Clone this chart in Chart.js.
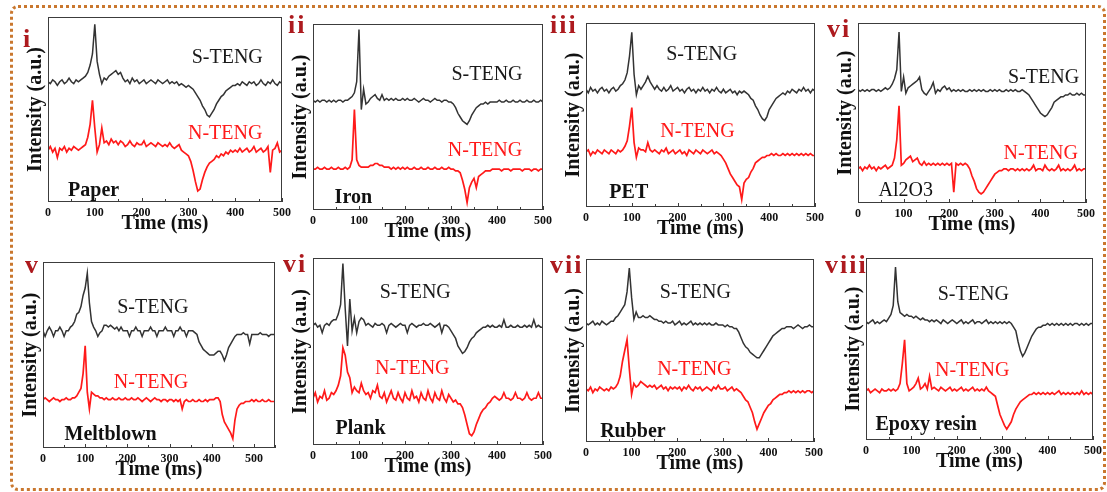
<!DOCTYPE html>
<html>
<head>
<meta charset="utf-8">
<script src="https://cdn.jsdelivr.net/npm/chart.js@4"></script>
<style>
  body { margin: 0; background: #fff; }
  #wrap { position: relative; width: 1107px; height: 492px; overflow: hidden; background: #fff; }
  #frame { position: absolute; left: 10px; top: 5px; width: 1096px; height: 486px; box-sizing: border-box;
           border: 3px dotted #c9772e; border-radius: 8px; }
  canvas { position: absolute; }
</style>
</head>
<body>
<div id="wrap"><div id="frame"></div></div>
<script>
// time grid (ms)
const t500 = [0,5,10,15,20,25,30,35,40,45,50,55,60,65,70,75,80,85,90,95,100,105,110,115,120,125,130,135,140,145,
  150,155,160,165,170,175,180,185,190,195,200,205,210,215,220,225,230,235,240,245,250,255,260,265,270,275,280,285,290,295,
  300,305,310,315,320,325,330,335,340,345,350,355,360,365,370,375,380,385,390,395,400,405,410,415,420,425,430,435,440,445,
  450,455,460,465,470,475,480,485,490,495,500];
const t550 = t500.concat([505,510,515,520,525,530,535,540,545,550]);

const seriesNames = ['S-TENG', 'N-TENG'];
const panelTags = ['i', 'ii', 'iii', 'vi', 'v', 'vi', 'vii', 'viii'];
const materials = ['Paper', 'Iron', 'PET', 'Al2O3', 'Meltblown', 'Plank', 'Rubber', 'Epoxy resin'];

// intensity, % of panel height
const paperS = [65,64,66,65,63,65,66,64,65,67, 65,64,66,65,66,67,68,70,74,80, 96,76,69,64,67,66,68,69,70,71,
  69,70,67,65,66,64,67,65,66,64, 65,66,64,65,66,65,64,66,65,64, 65,66,64,65,64,65,63,64,63,62,
  63,62,61,59,57,55,52,50,47,46, 48,50,53,55,57,58,60,61,62,63, 63,64,63,65,64,63,65,64,65,63,
  64,66,64,63,65,64,66,64,63,65, 64];
const paperN = [28,30,27,29,24,29,28,30,27,29, 28,30,29,28,29,30,31,35,42,55, 40,27,31,40,32,33,31,34,32,33,
  31,33,32,30,31,33,31,30,32,31, 31,33,30,31,32,31,30,32,31,30, 31,30,32,30,29,30,31,28,27,26,
  25,22,17,11,6,7,12,16,19,21, 22,23,25,24,26,25,27,26,28,27, 28,27,29,27,28,29,27,28,30,27,
  28,29,27,28,30,16,28,29,32,27, 28];
const ironS = [59,58,59,58,59,59,58,59,58,59, 58,59,59,58,59,59,60,61,63,69, 97,54,65,57,58,60,61,62,60,59,
  62,59,60,59,60,59,60,59,59,60, 59,60,59,59,60,59,58,59,60,59, 59,58,59,60,59,59,58,59,59,58,
  58,57,55,52,50,48,47,46,48,51, 53,55,56,57,57,58,57,58,58,58, 58,59,58,58,59,58,58,59,58,58,
  59,58,58,59,58,58,59,58,58,59, 58];
const ironN = [22,22,23,22,22,23,22,22,23,22, 22,23,22,22,23,22,23,27,54,27, 24,23,23,23,23,24,24,25,25,24,
  24,23,23,23,22,23,22,23,22,23, 22,23,22,22,23,22,22,23,22,22, 23,22,22,23,22,22,23,22,22,23,
  22,22,21,21,20,16,11,4,12,15, 17,12,18,19,20,21,21,21,22,22, 22,22,21,22,22,22,21,22,22,22,
  22,21,22,22,22,21,22,22,21,22, 22];
const petS = [64,62,65,63,64,62,64,65,63,64, 62,64,65,63,64,66,67,69,73,82, 95,72,61,66,64,66,68,71,68,66,
  64,66,64,63,65,63,64,66,63,64, 65,63,64,62,64,65,63,64,62,64, 63,65,63,64,62,64,63,65,63,62,
  64,62,63,64,62,63,61,63,62,63, 62,61,59,58,55,53,50,48,47,49, 53,55,57,59,60,61,62,61,63,62,
  64,63,62,64,63,65,63,64,62,64, 63];
const petN = [30,31,28,30,29,31,30,29,31,30, 29,31,30,29,31,30,31,33,36,44, 54,35,27,32,31,31,30,35,31,30,
  31,30,29,31,30,32,29,30,31,29, 30,31,29,30,28,31,30,29,31,30, 29,31,30,29,30,31,29,30,29,28,
  26,24,21,18,16,14,12,11,4,13, 15,16,19,21,24,25,26,27,27,28, 28,29,28,29,28,28,29,28,29,28,
  29,28,29,28,29,28,29,28,29,28, 28];
const aloS = [63,62,63,62,63,62,63,63,62,63, 62,63,64,63,64,66,69,74,95,62, 70,61,64,65,66,67,68,70,63,61,
  60,62,64,67,61,63,62,64,65,63, 64,62,63,62,63,62,63,62,62,63, 62,63,62,63,62,63,62,62,63,62,
  63,62,63,62,62,63,62,63,62,63, 62,62,63,62,61,60,58,56,54,52, 50,49,48,49,51,53,56,57,58,59,
  59,60,60,61,60,60,61,60,61,60, 60];
const aloN = [19,20,18,20,19,21,19,20,18,20, 19,20,21,19,20,21,25,35,54,21, 22,24,25,26,23,24,25,22,21,23,
  21,22,21,22,21,22,21,22,21,22, 21,22,6,22,21,22,21,22,21,19, 15,12,8,6,5,6,8,10,12,14,
  16,17,18,18,19,19,18,19,19,18, 19,18,19,18,19,18,19,21,18,19, 19,18,21,19,18,19,18,19,21,18,
  19,18,19,18,19,21,18,19,18,19, 19];
const meltS = [63,60,63,65,63,60,63,63,65,63, 60,63,63,65,66,68,72,73,76,82, 86,94,78,68,65,63,60,62,63,66,
  66,65,66,65,64,65,63,65,63,63, 63,60,63,63,65,63,63,60,63,63, 63,65,63,63,60,63,63,63,65,63,
  63,63,60,63,63,65,63,63,60,63, 63,63,62,61,57,55,53,52,51,50, 50,50,51,52,52,50,47,50,54,56,
  58,60,61,61,61,62,61,61,56,61, 61,61,61,62,61,61,61,60,61,61, 61];
const meltN = [26,27,26,25,26,27,26,26,25,26, 26,27,26,26,27,27,28,30,32,40, 55,30,21,30,29,28,28,27,27,26,
  27,26,26,27,26,26,27,26,26,27, 26,26,27,26,26,27,26,25,26,27, 26,25,26,27,26,26,25,26,26,25,
  26,26,25,26,25,26,21,25,26,25, 25,26,25,25,26,25,25,26,25,26, 26,26,27,27,25,18,14,12,10,8,
  5,15,21,23,24,24,25,25,25,26, 25,26,25,25,26,25,25,26,25,25, 25];
const plankS = [64,65,63,64,60,64,65,64,66,67, 67,70,75,97,73,53,78,61,68,60, 66,68,67,64,65,64,63,65,64,64,
  65,64,60,64,65,64,63,64,65,64, 64,60,64,65,64,63,64,64,65,64, 64,65,64,63,64,65,60,64,64,63,
  61,59,57,53,51,49,50,52,55,57, 58,60,61,62,63,63,64,63,64,63, 63,64,63,67,63,63,64,63,63,64,
  63,63,64,63,64,63,67,63,64,63, 63];
const plankN = [25,28,23,26,25,29,24,25,28,27, 29,32,37,52,48,39,36,28,31,29, 28,33,29,27,28,25,29,28,32,26,
  25,28,23,26,29,25,24,28,25,23, 28,25,24,29,25,26,23,28,25,24, 29,25,23,28,25,24,29,25,23,27,
  25,23,24,22,22,20,16,11,6,5, 7,11,14,17,19,20,22,23,25,26, 25,24,25,28,25,25,24,25,28,25,
  25,24,25,28,25,24,25,25,28,25, 25];
const rubberS = [65,64,65,66,64,65,64,66,65,64, 65,66,66,68,69,71,73,75,82,95, 79,67,71,68,68,69,68,68,69,68,
  67,67,66,66,65,66,65,65,66,64, 65,66,64,65,64,65,66,64,65,64, 65,64,65,64,65,64,64,65,64,64,
  64,63,64,63,63,62,62,60,57,54, 52,51,49,48,47,46,46,48,50,52, 54,56,58,59,60,61,62,62,63,63,
  63,62,63,64,63,62,63,63,64,63, 63];
const rubberN = [29,28,30,27,29,28,30,29,28,29, 28,30,29,30,32,36,44,50,56,40, 26,32,30,31,33,32,31,30,31,30,
  31,29,30,31,29,30,28,30,29,30, 29,30,28,30,29,31,29,28,30,29, 30,28,29,30,29,28,30,29,31,29,
  29,30,28,29,30,28,29,28,27,25, 23,22,19,16,11,7,10,13,16,18, 20,21,23,24,25,26,26,27,27,28,
  27,28,27,28,27,28,27,28,28,27, 28];
const epoxyS = [65,64,65,66,64,65,64,65,66,65, 67,69,74,95,76,70,69,68,69,68, 68,67,68,67,66,67,66,66,65,66,
  65,66,65,64,66,65,64,65,66,65, 64,65,66,64,65,64,65,66,64,65, 65,64,65,66,64,65,64,65,64,65,
  64,65,64,65,64,62,60,54,49,46, 48,51,54,57,59,61,62,62,63,63, 64,63,64,63,64,63,64,63,64,63,
  64,63,64,64,63,64,63,64,63,64, 64];
const epoxyN = [27,28,26,27,28,27,26,28,27,27, 28,27,28,27,28,31,42,55,31,27, 28,29,31,34,28,29,31,28,35,28,
  29,28,27,29,28,27,28,29,27,28, 27,28,29,27,28,27,28,29,27,28, 27,28,27,29,27,26,25,24,19,14,
  11,8,6,8,10,14,17,19,21,22, 23,24,25,25,26,25,26,25,26,25, 26,25,26,25,26,27,25,26,25,26,
  25,26,25,26,25,27,25,26,25,26, 25];

// layout: plot box [left, top, right, bottom] in page px, label anchors in data units
const panels = [
  { box: [48, 17, 282, 202],  xMax: 500, times: t500, s: paperS,  n: paperN,  tag: [-25, 30], sAt: [307, 75],   nAt: [299, 34],   mAt: [43, 3] },
  { box: [313, 24, 543, 210], xMax: 500, times: t500, s: ironS,   n: ironN,   tag: [-25, 9],  sAt: [301, 70],   nAt: [293, 29],   mAt: [47, 4] },
  { box: [586, 23, 815, 207], xMax: 500, times: t500, s: petS,    n: petN,    tag: [-36, 10], sAt: [175, 79.8], nAt: [162, 38],   mAt: [51, 5] },
  { box: [858, 23, 1086, 203],xMax: 500, times: t500, s: aloS,    n: aloN,    tag: [-31, 14], sAt: [329, 66.4], nAt: [319, 24.4], mAt: [45, 3.7] },
  { box: [43, 262, 275, 448], xMax: 550, times: t550, s: meltS,   n: meltN,   tag: [-18, 11], sAt: [176, 72.6], nAt: [168, 32],   mAt: [51, 4.5] },
  { box: [313, 258, 543, 445],xMax: 500, times: t500, s: plankS,  n: plankN,  tag: [-30, 14], sAt: [145, 78.6], nAt: [135, 37.9], mAt: [49, 5.7] },
  { box: [586, 259, 814, 442],xMax: 500, times: t500, s: rubberS, n: rubberN, tag: [-36, 14], sAt: [162, 78.5], nAt: [156, 36.5], mAt: [31, 2.7] },
  { box: [866, 258, 1093, 440],xMax: 500, times: t500, s: epoxyS, n: epoxyN,  tag: [-41, 15], sAt: [158, 77],   nAt: [152, 35.4], mAt: [21, 5.5] }
];

const SERIF = '"Liberation Serif", "Times New Roman", serif';
const ML = 48, MT = 12, MR = 14, MB = 38;

function makeDecor(p, idx) {
  return {
    id: 'decor' + idx,
    afterDraw(chart) {
      const ctx = chart.ctx, a = chart.chartArea;
      const xs = chart.scales.x, ys = chart.scales.y;
      ctx.save();
      // frame
      ctx.strokeStyle = '#3c3c3c';
      ctx.lineWidth = 1;
      ctx.strokeRect(Math.round(a.left) + 0.5, Math.round(a.top) + 0.5,
        Math.round(a.right - a.left) - 1, Math.round(a.bottom - a.top) - 1);
      // inward ticks
      ctx.beginPath();
      for (let t = 0; t <= p.xMax; t += 50) {
        const px = Math.round(xs.getPixelForValue(t)) + 0.5;
        ctx.moveTo(px, a.bottom);
        ctx.lineTo(px, a.bottom - (t % 100 === 0 ? 4 : 3));
      }
      ctx.stroke();
      // axis titles
      ctx.fillStyle = '#111';
      ctx.font = 'bold 20px ' + SERIF;
      ctx.textAlign = 'center';
      ctx.textBaseline = 'middle';
      ctx.fillText('Time (ms)', (a.left + a.right) / 2, a.bottom + 22);
      ctx.save();
      ctx.translate(a.left - 12, (a.top + a.bottom) / 2);
      ctx.rotate(-Math.PI / 2);
      ctx.fillText('Intensity (a.u.)', 0, 0);
      ctx.restore();
      // in-plot labels
      ctx.textAlign = 'left';
      ctx.textBaseline = 'alphabetic';
      ctx.font = '20px ' + SERIF;
      ctx.fillStyle = '#1a1a1a';
      ctx.fillText(seriesNames[0], xs.getPixelForValue(p.sAt[0]), ys.getPixelForValue(p.sAt[1]));
      ctx.fillStyle = '#ff1a1a';
      ctx.fillText(seriesNames[1], xs.getPixelForValue(p.nAt[0]), ys.getPixelForValue(p.nAt[1]));
      ctx.fillStyle = '#111';
      ctx.font = (materials[idx] === 'Al2O3' ? '20px ' : 'bold 20px ') + SERIF;
      ctx.fillText(materials[idx], xs.getPixelForValue(p.mAt[0]), ys.getPixelForValue(p.mAt[1]));
      // panel tag
      ctx.fillStyle = '#ad1a1e';
      ctx.font = 'bold 26px ' + SERIF;
      ctx.letterSpacing = '2px';
      ctx.fillText(panelTags[idx], a.left + p.tag[0], a.top + p.tag[1]);
      ctx.restore();
    }
  };
}

const wrap = document.getElementById('wrap');
panels.forEach((p, idx) => {
  const [l, t, r, b] = p.box;
  const cv = document.createElement('canvas');
  const W = (r - l) + ML + MR, H = (b - t) + MT + MB;
  cv.width = W; cv.height = H;
  cv.style.left = (l - ML) + 'px';
  cv.style.top = (t - MT) + 'px';
  cv.style.width = W + 'px'; cv.style.height = H + 'px';
  wrap.appendChild(cv);

  new Chart(cv, {
    type: 'line',
    data: {
      datasets: [
        { label: seriesNames[0], data: p.times.map((tm, i) => ({ x: tm, y: p.s[i] })),
          borderColor: '#333333', borderWidth: 1.5, pointRadius: 0, tension: 0 },
        { label: seriesNames[1], data: p.times.map((tm, i) => ({ x: tm, y: p.n[i] })),
          borderColor: '#ff1a1a', borderWidth: 1.7, pointRadius: 0, tension: 0 }
      ]
    },
    options: {
      responsive: false,
      animation: false,
      devicePixelRatio: 1,
      layout: { padding: { left: ML, top: MT, right: MR, bottom: 0 } },
      plugins: { legend: { display: false }, tooltip: { enabled: false } },
      scales: {
        x: {
          type: 'linear', min: 0, max: p.xMax,
          grid: { display: false, drawTicks: false },
          border: { display: false },
          ticks: { stepSize: 100, includeBounds: false, padding: 4, color: '#111',
                   font: { family: SERIF, weight: 'bold', size: 12 } },
          afterFit: s => { s.height = MB; }
        },
        y: { display: false, min: 0, max: 100 }
      }
    },
    plugins: [makeDecor(p, idx)]
  });
});
</script>
</body>
</html>
